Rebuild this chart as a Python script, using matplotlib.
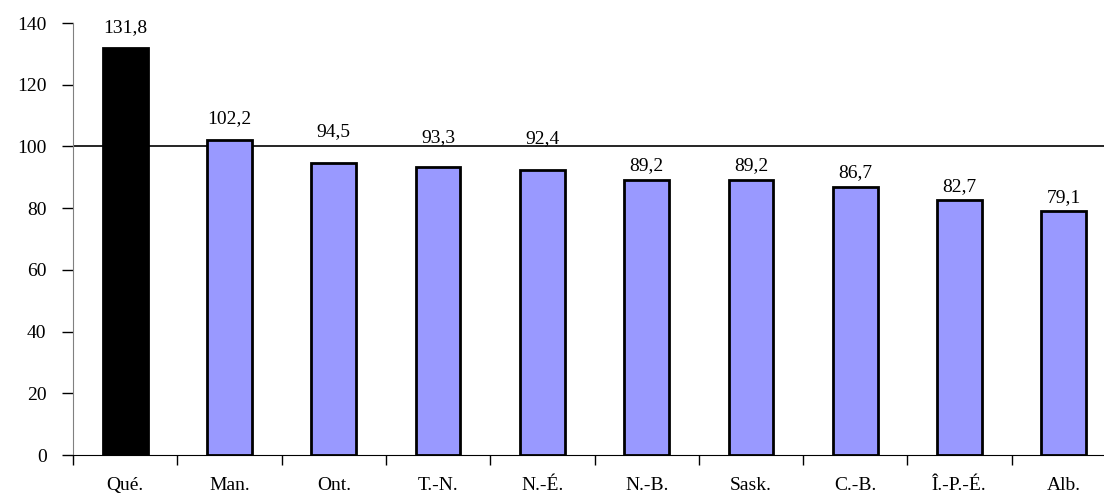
import numpy as np
import matplotlib.pyplot as plt

provinces = ['Qué.', 'Man.', 'Ont.', 'T.-N.', 'N.-É.', 'N.-B.', 'Sask.', 'C.-B.', 'Î.-P.-É.', 'Alb.']
values = [131.8, 102.2, 94.5, 93.3, 92.4, 89.2, 89.2, 86.7, 82.7, 79.1]
yticks = [0, 20, 40, 60, 80, 100, 120, 140]
# value labels were nudged by hand in the original (the ones near 100 sit above the line)
label_gap_px = [16, 17, 27, 25, 27, 10, 10, 10, 9, 9]

plt.rcParams['font.family'] = ['Liberation Serif', 'DejaVu Serif']

fig = plt.figure(figsize=(11.04, 4.96), dpi=100)
ax = fig.add_axes([73 / 1104, 41 / 496, 1043 / 1104, 432 / 496])

x = np.arange(len(provinces))
colors = ['black'] + ['#9999FF'] * (len(provinces) - 1)
ax.bar(x, values, width=0.43, color=colors, edgecolor='black', linewidth=2, zorder=2)

for xi, v, gap in zip(x, values, label_gap_px):
    ax.annotate('{:.1f}'.format(v).replace('.', ','), (xi, v), xytext=(0, gap * 0.72),
                textcoords='offset points', ha='center', va='baseline', fontsize=14)

ax.axhline(100, color='black', linewidth=1.2, zorder=1)

ax.set_xlim(-0.5, len(provinces) - 0.5)
ax.set_ylim(0, 140)
ax.set_yticks(yticks)
ax.tick_params(axis='y', labelsize=14, length=8, width=1, pad=11)

# category labels sit between the boundary tick marks
ax.set_xticks(np.arange(len(provinces) + 1) - 0.5)
ax.set_xticklabels([])
ax.set_xticks(x, minor=True)
ax.set_xticklabels(provinces, minor=True, fontsize=14)
ax.tick_params(axis='x', which='major', length=7, width=1)
ax.tick_params(axis='x', which='minor', length=0, pad=16)

for s in ['top', 'right']:
    ax.spines[s].set_visible(False)
ax.spines['left'].set_color('#808080')
ax.spines['bottom'].set_color('black')

fig.savefig('out.png', dpi=100)
